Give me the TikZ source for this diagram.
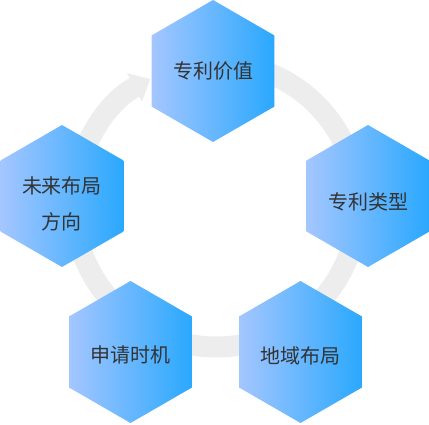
\documentclass[tikz,border=0pt]{standalone}
\usepackage{fontspec}
\usepackage{tikz}
\usetikzlibrary{arrows.meta,shapes.geometric}
\setmainfont{Noto Sans CJK SC}
\definecolor{hexLeft}{RGB}{164,198,255}
\definecolor{hexRight}{RGB}{42,168,254}
\definecolor{ringGray}{RGB}{237,237,237}
\definecolor{txtGray}{RGB}{51,51,51}

\begin{document}
\begin{tikzpicture}[x=1pt,y=1pt,
  hexa/.style={regular polygon,regular polygon sides=6,shape border rotate=30,
    minimum size=142pt,inner sep=0pt,left color=hexLeft,right color=hexRight},
  lbl/.style={text=txtGray,align=center,font=\fontsize{20}{36}\selectfont},
  ring/.style={line width=21pt,draw=ringGray,-{Triangle[width=31pt,length=18pt]}}
]
  \useasboundingbox (0,0) rectangle (429,424);
  \coordinate (ctr) at (216,219);

  % cycle behind the hexagons
  \draw[ring] ([shift={(85:142)}]ctr) arc[start angle=85,end angle=-242.5,radius=142];

  \node[hexa,label={[lbl]center:专利价值}] (val) at (213,353) {};
  \node[hexa,label={[lbl,yshift=-6pt]center:专利类型}] (typ) at (368,228) {};
  \node[hexa,label={[lbl,yshift=-4pt]center:地域布局}] (geo) at (300.5,72) {};
  \node[hexa,label={[lbl,yshift=-3pt]center:申请时机}] (tim) at (130.5,72) {};
  \node[hexa,label={[lbl,yshift=-8pt]center:{未来布局\\方向}}] (fut) at (62,228) {};
\end{tikzpicture}
\end{document}
